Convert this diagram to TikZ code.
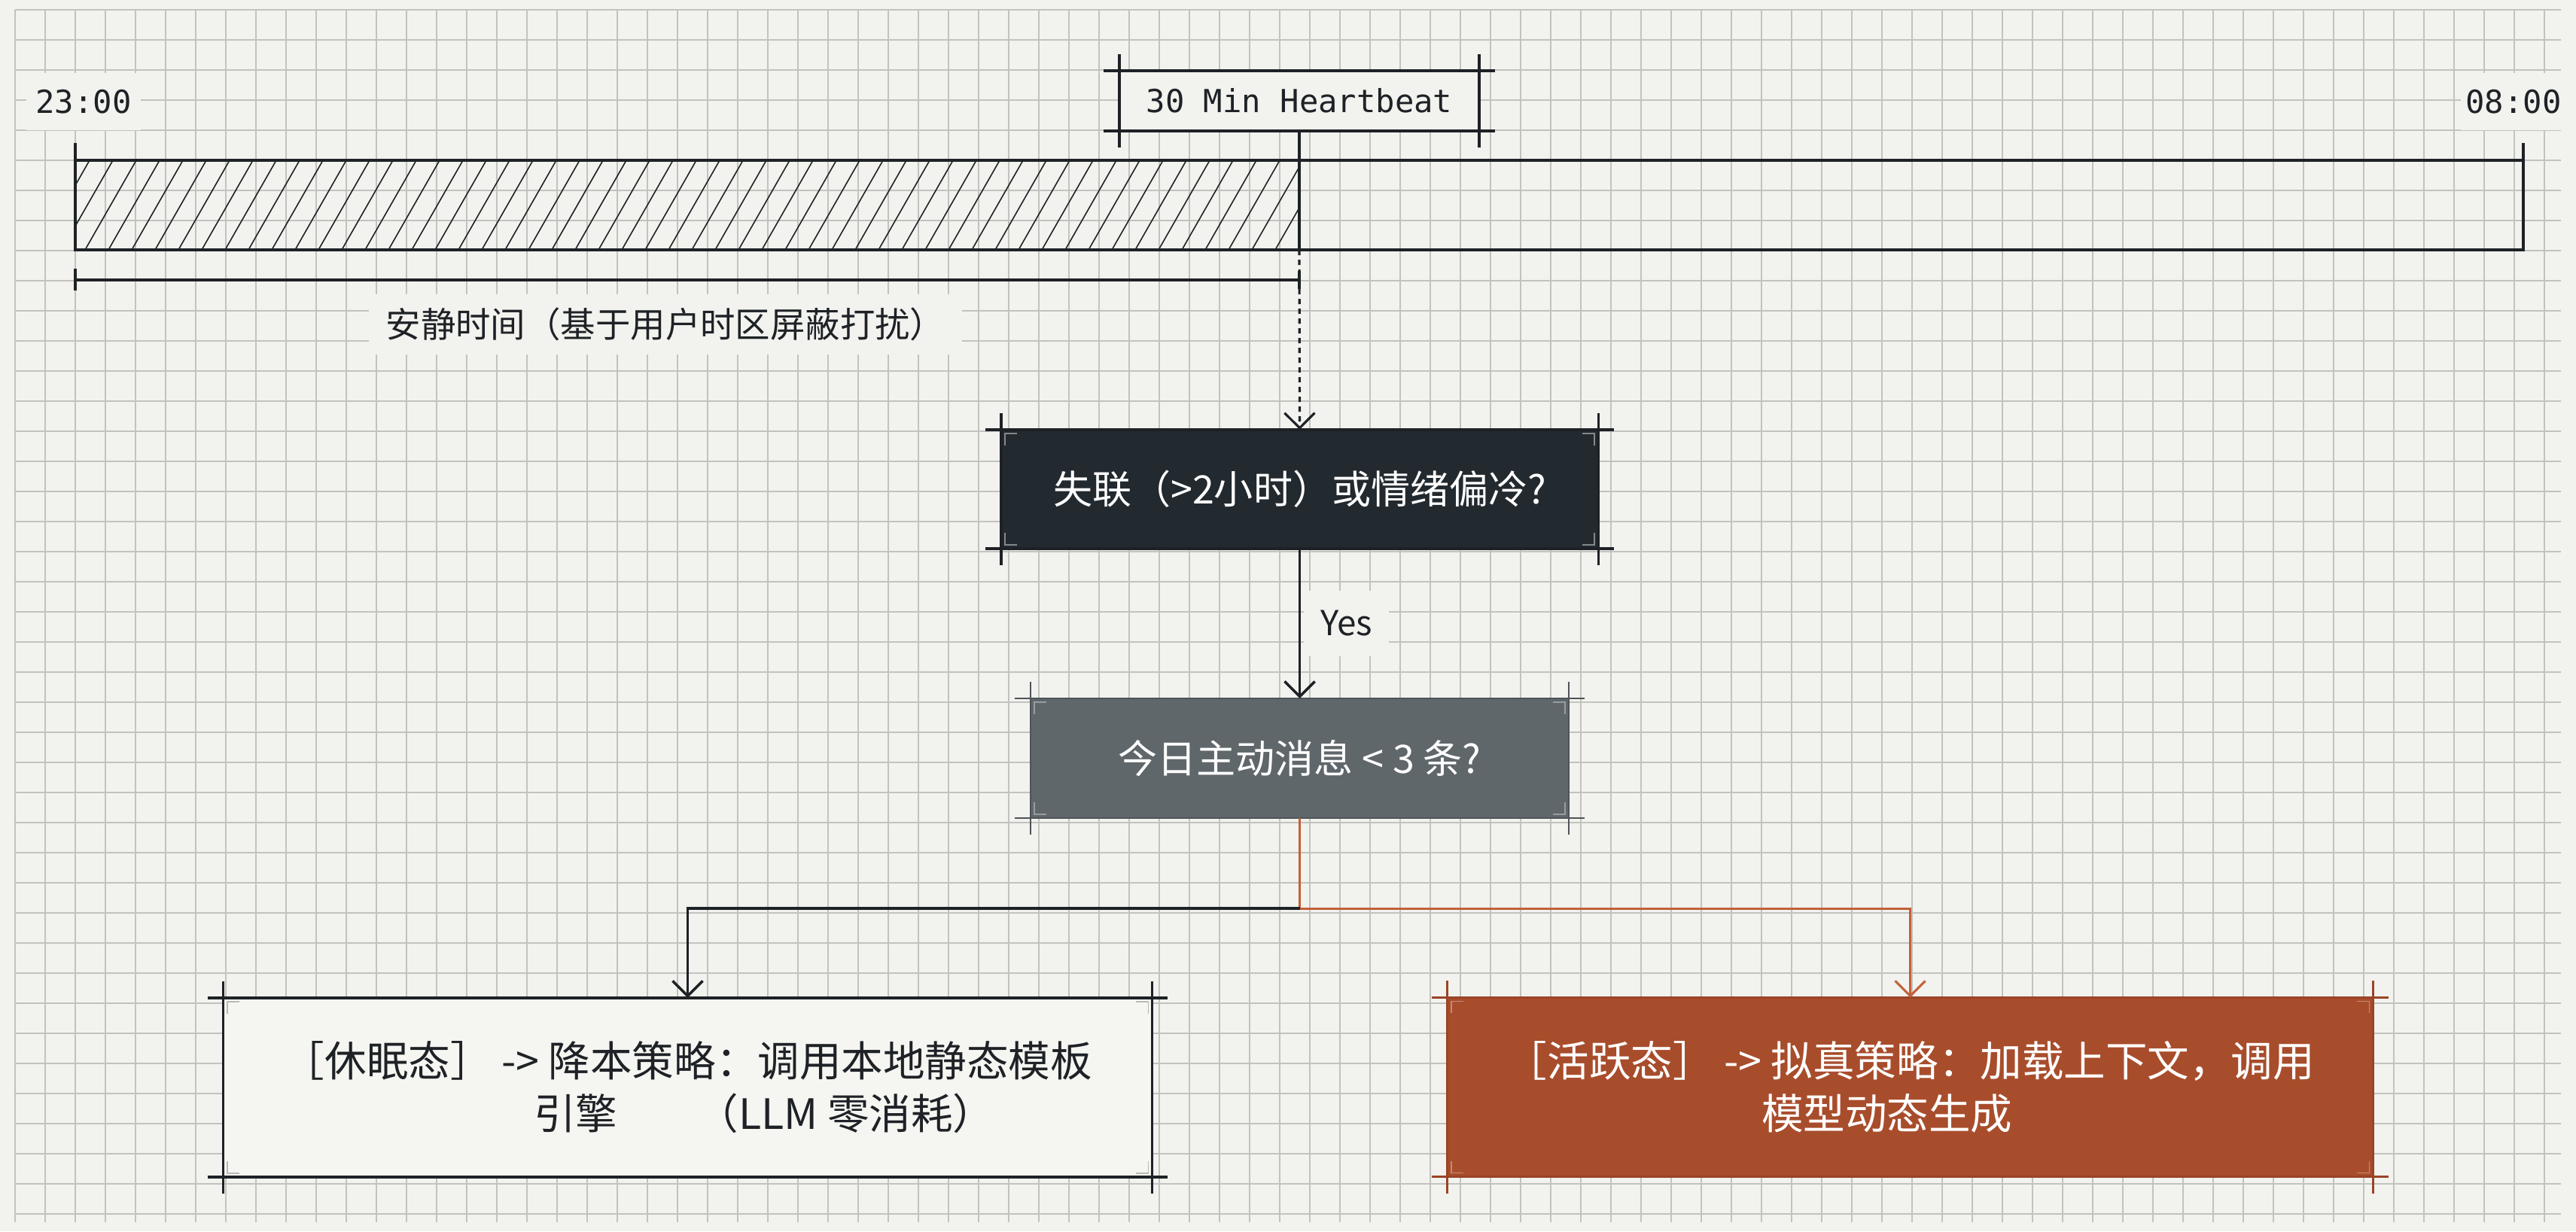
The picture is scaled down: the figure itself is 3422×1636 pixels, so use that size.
\documentclass[tikz,border=0pt]{standalone}
\usepackage{fontspec}
\newfontfamily\cjk{Noto Sans CJK SC}
\newfontfamily\monofam{DejaVu Sans Mono}
\usetikzlibrary{arrows.meta}
\definecolor{pagebg}{HTML}{F2F2EE}
\definecolor{gridc}{HTML}{C2C2BE}
\definecolor{ink}{HTML}{1E2226}
\definecolor{darkbox}{HTML}{22292F}
\definecolor{graybox}{HTML}{60676B}
\definecolor{grayline}{HTML}{4E5457}
\definecolor{rust}{HTML}{A84D2C}
\definecolor{rustframe}{HTML}{9A4427}
\definecolor{rustline}{HTML}{C2603A}
\definecolor{lightbox}{HTML}{F5F5F1}

\tikzset{
  every node/.style={inner sep=0pt, outer sep=0pt},
  mainline/.style={draw=ink, line width=1pt},
  orangeline/.style={draw=rustline, line width=0.85pt},
  arr/.style={-{Straight Barb[length=0.2cm, width=0.4cm]}},
  timelab/.style={fill=pagebg, text=ink, font=\monofam\fontsize{12}{14}\selectfont, minimum height=0.76cm},
  hbbox/.style={fill=pagebg, text=ink, font=\monofam\fontsize{12}{14}\selectfont, minimum width=4.78cm, minimum height=0.8cm},
  quietlab/.style={fill=pagebg, text=ink, font=\cjk\fontsize{13.2}{16}\selectfont, minimum width=7.87cm, minimum height=0.8cm},
  yeslab/.style={fill=pagebg, text=ink, font=\cjk\fontsize{13}{15}\selectfont, minimum width=1.13cm, minimum height=0.87cm},
  qbox/.style={text=white, font=\cjk\fontsize{14.8}{18}\selectfont},
  outbox/.style={font=\cjk\fontsize{15.8}{19.9}\selectfont, align=left, minimum height=2.38cm, minimum width=12.3cm},
}

% crop-style frame: node name, colour, line width
\newcommand{\cropframe}[3]{%
  \draw[#2, line width=#3] ([xshift=-0.21cm]#1.north west) -- ([xshift=0.21cm]#1.north east);
  \draw[#2, line width=#3] ([xshift=-0.21cm]#1.south west) -- ([xshift=0.21cm]#1.south east);
  \draw[#2, line width=#3] ([yshift=0.22cm]#1.north west) -- ([yshift=-0.22cm]#1.south west);
  \draw[#2, line width=#3] ([yshift=0.22cm]#1.north east) -- ([yshift=-0.22cm]#1.south east);
}
% small inner corner marks: node name, colour
\newcommand{\innermarks}[2]{%
  \draw[#2, line width=0.5pt] ([shift={(0.05cm,-0.21cm)}]#1.north west) -- ++(0,0.16cm) -- ++(0.16cm,0);
  \draw[#2, line width=0.5pt] ([shift={(-0.21cm,-0.05cm)}]#1.north east) -- ++(0.16cm,0) -- ++(0,-0.16cm);
  \draw[#2, line width=0.5pt] ([shift={(0.05cm,0.21cm)}]#1.south west) -- ++(0,-0.16cm) -- ++(0.16cm,0);
  \draw[#2, line width=0.5pt] ([shift={(-0.21cm,0.05cm)}]#1.south east) -- ++(0.16cm,0) -- ++(0,0.16cm);
}

\begin{document}
\begin{tikzpicture}[x=0.01cm, y=-0.01cm]
\useasboundingbox (0,0) rectangle (3422,1636);
\fill[pagebg] (0,0) rectangle (3422,1636);

% grid
\begin{scope}
  \clip (19,12) rectangle (3402,1624);
  \draw[gridc, line width=0.6pt] foreach \x in {20,60,...,3380} {(\x,13) -- (\x,1624)};
  \draw[gridc, line width=0.6pt] foreach \y in {13,53,...,1613} {(20,\y) -- (3402,\y)};
\end{scope}

% time labels
\node[timelab, minimum width=1.52cm] (t23) at (111,135) {23:00};
\node[timelab, minimum width=1.40cm] (t08) at (3339,135) {08:00};

% hatched quiet part of bar
\begin{scope}
  \clip (100,213) rectangle (1726,332);
  \draw[ink, line width=0.45pt] foreach \x in {20,51,...,1760} {(\x,332) -- (\x+68,213)};
\end{scope}

% timeline bar
\draw[mainline] (100,190) -- (100,332) -- (3352,332) -- (3352,190);
\draw[mainline] (100,213) -- (3352,213);

% heartbeat marker
\node[hbbox] (hb) at (1726,134) {30 Min Heartbeat};
\cropframe{hb}{ink}{1pt}
\coordinate (hbbar) at (1726,332);
\draw[ink, line width=1.3pt] (hb.south) -- (hbbar);

% quiet-time bracket
\draw[mainline] (100,357) -- (100,386);
\draw[mainline] (100,372) -- (1726,372);
\draw[mainline] (1726,360) -- (1726,384);
\node[quietlab] (quiet) at (884,431) {安静时间（基于用户时区屏蔽打扰）};

% decision 1
\node[qbox, fill=darkbox, minimum width=7.93cm, minimum height=1.58cm] (q1) at (1726.5,650) {失联（>2小时）或情绪偏冷?};
\cropframe{q1}{ink}{1pt}
\innermarks{q1}{white!45!darkbox}

\draw[ink, line width=0.9pt, dash pattern=on 0.07cm off 0.06cm, arr] (hbbar) -- (q1.north);

% decision 2
\node[qbox, fill=graybox, minimum width=7.15cm, minimum height=1.59cm] (q2) at (1726.5,1007.5) {今日主动消息 < 3 条?};
\cropframe{q2}{grayline}{0.7pt}
\innermarks{q2}{white!35!graybox}

\draw[mainline, arr] (q1.south) -- node[yeslab, xshift=0.62cm] (yes) {Yes} (q2.north);

% outcomes
\node[outbox, fill=lightbox, text=ink, minimum width=12.33cm] (left) at (913.5,1445)
  {［休眠态］ -> 降本策略：调用本地静态模板\\\hspace*{3.33cm}引擎\hspace{1.9em}（LLM 零消耗）};
\cropframe{left}{ink}{1pt}
\innermarks{left}{black!25!lightbox}

\node[outbox, fill=rust, text=white, minimum width=12.29cm] (right) at (2537.5,1444.5)
  {［活跃态］ -> 拟真策略：加载上下文，调用\\\hspace*{3.40cm}模型动态生成};
\cropframe{right}{rustframe}{0.8pt}
\innermarks{right}{white!35!rust}

% branch connectors
\coordinate (split) at (1726.5,1207);
\draw[orangeline] (q2.south) -- (split);
\draw[mainline, arr] (split) -| (left.north);
\draw[orangeline, arr] (split) -| (right.north);
\end{tikzpicture}
\end{document}
